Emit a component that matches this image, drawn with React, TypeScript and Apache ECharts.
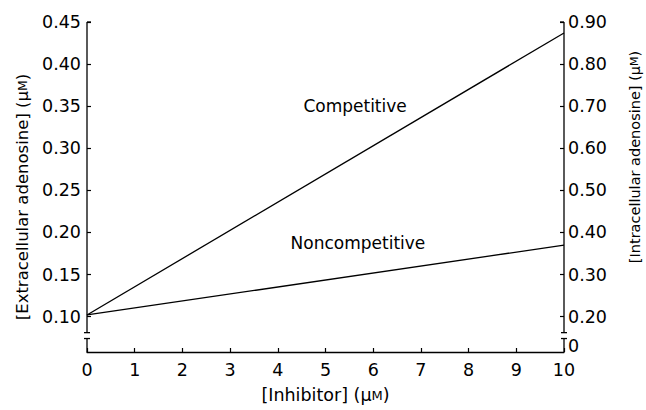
import React, { useEffect, useRef } from "react";
import * as echarts from "echarts";

// Data
const inhibitor = [0, 10];
const competitive = [0.102, 0.437];
const noncompetitive = [0.102, 0.185];
const xTicks = [0, 1, 2, 3, 4, 5, 6, 7, 8, 9, 10];
const leftTicks = [0.1, 0.15, 0.2, 0.25, 0.3, 0.35, 0.4, 0.45];
const rightTicks = [0.2, 0.3, 0.4, 0.5, 0.6, 0.7, 0.8, 0.9];
const rightBreakLabel = "0";
const seriesLabels = [
  { text: "Competitive", x: 5.62, y: 0.35 },
  { text: "Noncompetitive", x: 5.68, y: 0.188 },
];

const FONT = "DejaVu Sans";
const LEFT_MIN = 0.058;
const LEFT_MAX = 0.45;
const BREAK_TOP = 0.081; // left-axis value where upper segment ends
const BREAK_BOTTOM = 0.074; // left-axis value where lower segment starts
const RIGHT_ZERO_POS = 0.131; // right-axis value where "0" label sits

export default function App() {
  const ref = useRef<HTMLDivElement>(null);
  useEffect(() => {
    document.body.style.margin = "0";
    const chart = echarts.init(ref.current!, null, { renderer: "svg" });
    const tickStyle = { show: true, inside: true, length: 4, lineStyle: { color: "#000", width: 1.2 } };
    chart.setOption({
      animation: false,
      backgroundColor: "#fff",
      grid: { left: 87, right: 82, top: 22, bottom: 58, containLabel: false, outerBoundsMode: "none" },
      xAxis: {
        type: "value",
        min: 0,
        max: 10,
        interval: 1,
        axisLine: { show: true, onZero: false, lineStyle: { color: "#000", width: 1.3 } },
        axisTick: tickStyle,
        splitLine: { show: false },
        axisLabel: {
          color: "#000",
          fontFamily: FONT,
          fontSize: 17.5,
          margin: 9,
          customValues: xTicks,
        },
        name: "[Inhibitor] ({mu|μ}{sm|M})",
        nameLocation: "middle",
        nameGap: 34,
        nameTextStyle: {
          color: "#000",
          fontFamily: FONT,
          fontSize: 17.5,
          rich: {
            mu: { fontFamily: FONT, fontSize: 17.5, color: "#000" },
            sm: { fontFamily: FONT, fontSize: 13, color: "#000" },
          },
        },
      },
      yAxis: [
        {
          type: "value",
          position: "left",
          min: LEFT_MIN,
          max: LEFT_MAX,
          axisLine: { show: false },
          axisTick: { ...tickStyle, customValues: leftTicks },
          splitLine: { show: false },
          axisLabel: {
            color: "#000",
            fontFamily: FONT,
            fontSize: 17.5,
            margin: 6,
            customValues: leftTicks,
            formatter: (v: number) => v.toFixed(2),
          },
          name: "[Extracellular adenosine] ({mu|μ}{sm|M})",
          nameLocation: "middle",
          nameGap: 55,
          nameRotate: 90,
          nameTextStyle: {
            color: "#000",
            fontFamily: FONT,
            fontSize: 16.5,
            padding: [0, 20, 0, 0],
            rich: {
              mu: { fontFamily: FONT, fontSize: 16.5, color: "#000" },
              sm: { fontFamily: FONT, fontSize: 12.5, color: "#000" },
            },
          },
        },
        {
          type: "value",
          position: "right",
          min: LEFT_MIN * 2,
          max: LEFT_MAX * 2,
          axisLine: { show: false },
          axisTick: { ...tickStyle, customValues: rightTicks },
          splitLine: { show: false },
          axisLabel: {
            color: "#000",
            fontFamily: FONT,
            fontSize: 17.5,
            margin: 4,
            customValues: [RIGHT_ZERO_POS, ...rightTicks],
            formatter: (v: number) => (v < 0.15 ? rightBreakLabel : v.toFixed(2)),
          },
          name: "[Intracellular adenosine] ({mu|μ}{sm|M})",
          nameLocation: "middle",
          nameGap: 63,
          nameRotate: 90,
          nameTextStyle: {
            color: "#000",
            fontFamily: FONT,
            fontSize: 14.5,
            padding: [0, 0, 0, 60],
            rich: {
              mu: { fontFamily: FONT, fontSize: 14.5, color: "#000" },
              sm: { fontFamily: FONT, fontSize: 11, color: "#000" },
            },
          },
        },
      ],
      series: [
        {
          type: "line",
          data: inhibitor.map((x, i) => [x, competitive[i]]),
          showSymbol: false,
          symbol: "none",
          lineStyle: { color: "#000", width: 1.3 },
          yAxisIndex: 0,
        },
        {
          type: "line",
          data: inhibitor.map((x, i) => [x, noncompetitive[i]]),
          showSymbol: false,
          symbol: "none",
          lineStyle: { color: "#000", width: 1.3 },
          yAxisIndex: 0,
        },
      ],
    });

    // Broken y axes drawn from axis values
    const py = (v: number) => chart.convertToPixel({ yAxisIndex: 0 }, v) as number;
    const px = (v: number) => chart.convertToPixel({ xAxisIndex: 0 }, v) as number;
    const xl = px(0);
    const xr = px(10);
    const yTop = py(LEFT_MAX);
    const yBreakTop = py(BREAK_TOP);
    const yBreakBottom = py(BREAK_BOTTOM);
    const yBase = py(LEFT_MIN);
    const ls = { stroke: "#000", lineWidth: 1.3 };
    const seg = (x1: number, y1: number, x2: number, y2: number) => ({
      type: "line",
      shape: { x1, y1, x2, y2 },
      style: ls,
      silent: true,
    });
    const elements: any[] = [];
    for (const x of [xl, xr]) {
      elements.push(seg(x, yTop, x, yBreakTop));
      elements.push(seg(x - 3, yBreakTop, x + 3, yBreakTop));
      elements.push(seg(x, yBreakBottom, x, yBase));
      elements.push(seg(x - 3, yBreakBottom, x + 3, yBreakBottom));
    }
    // top caps
    elements.push(seg(xl, yTop, xl + 4, yTop));
    elements.push(seg(xr - 4, yTop, xr, yTop));
    for (const l of seriesLabels) {
      const [cx, cy] = chart.convertToPixel({ xAxisIndex: 0, yAxisIndex: 0 }, [l.x, l.y]) as number[];
      elements.push({
        type: "text",
        x: cx,
        y: cy,
        style: {
          text: l.text,
          fill: "#000",
          font: `17px "${FONT}"`,
          align: "center",
          verticalAlign: "middle",
        },
        silent: true,
      });
    }
    chart.setOption({ graphic: { elements } });
    return () => chart.dispose();
  }, []);
  return <div ref={ref} style={{ width: 646, height: 410 }} />;
}
